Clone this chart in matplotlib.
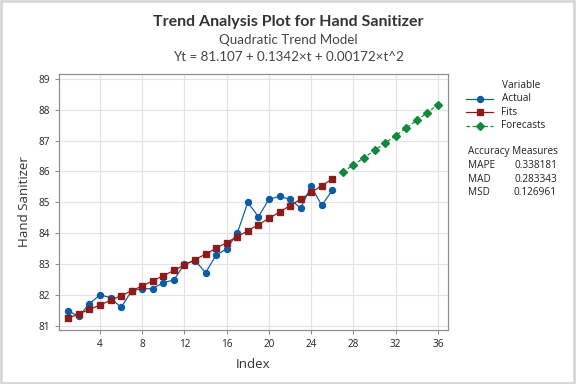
import matplotlib
matplotlib.use("Agg")
import matplotlib.pyplot as plt
from matplotlib.lines import Line2D

plt.rcParams['font.family'] = ['Open Sans', 'DejaVu Sans']

t_actual = list(range(1, 27))
actual = [81.48, 81.30, 81.71, 82.00, 81.91, 81.59, 82.13, 82.20, 82.20, 82.40,
          82.48, 83.00, 83.11, 82.72, 83.29, 83.49, 84.00, 85.00, 84.53, 85.10,
          85.19, 85.10, 84.81, 85.52, 84.90, 85.39]
fits = [81.243, 81.382, 81.525, 81.671, 81.821, 81.974, 82.131, 82.291, 82.454, 82.621,
        82.791, 82.965, 83.142, 83.323, 83.507, 83.695, 83.886, 84.080, 84.278, 84.479,
        84.684, 84.892, 85.103, 85.319, 85.538, 85.759]
t_fc = list(range(27, 37))
forecasts = [85.984, 86.213, 86.446, 86.681, 86.920, 87.163, 87.409, 87.658, 87.911, 88.167]
xticks = [4, 8, 12, 16, 20, 24, 28, 32, 36]
yticks = [81, 82, 83, 84, 85, 86, 87, 88, 89]
series_names = ["Actual", "Fits", "Forecasts"]
measures = ["MAPE", "MAD", "MSD"]
measure_vals = ["0.338181", "0.283343", "0.126961"]

c_blue = "#0A5BA8"
c_red = "#8E1B1B"
c_green = "#12883A"
txt = "#222222"
ttl = ["Lato", "Open Sans", "DejaVu Sans"]

fig = plt.figure(figsize=(6, 4), dpi=96)
fig.patch.set_facecolor("white")
ax = fig.add_axes([0.1024, 0.1406, 0.6753, 0.6667])

styles = [dict(color=c_blue, lw=0.9, marker='o', ms=4.5),
          dict(color=c_red, lw=0.9, marker='s', ms=4.5),
          dict(color=c_green, lw=0.9, ls=(0, (3, 2)), marker='D', ms=4)]

ax.plot(t_actual, actual, zorder=3, **styles[0])
ax.plot(t_actual, fits, zorder=3, **styles[1])
ax.plot(t_fc, forecasts, zorder=3, **styles[2])

ax.set_xlim(0.12, 36.95)
ax.set_ylim(80.86, 89.16)
ax.set_xticks(xticks)
ax.set_yticks(yticks)
ax.grid(True, color="#E3E3E3", lw=0.9)
ax.set_axisbelow(True)
for s in ax.spines.values():
    s.set_color("#8C8C8C")
    s.set_linewidth(0.9)
ax.tick_params(colors="#8C8C8C", labelcolor=txt, labelsize=7.5, length=3)
ax.set_xlabel("Index", fontsize=10, color="#333333", labelpad=6)
ax.set_ylabel("Hand Sanitizer", fontsize=10, color="#333333", labelpad=6)

fig.text(0.5, 0.943, "Trend Analysis Plot for Hand Sanitizer", ha='center', va='center',
         fontsize=12, fontweight='bold', color="#333333", family=ttl)
fig.text(0.5, 0.897, "Quadratic Trend Model", ha='center', va='center', fontsize=10,
         color="#444444", family=ttl)
fig.text(0.5, 0.852, "Yt = 81.107 + 0.1342\u00d7t + 0.00172\u00d7t^2", ha='center', va='center',
         fontsize=10, color="#444444", family=ttl)

# legend (Minitab style)
W, H = 576.0, 384.0
fig.text(501.5 / W, 1 - 85 / H, "Variable", fontsize=7.5, color=txt, va='center')
for i, (name, st) in enumerate(zip(series_names, styles)):
    yy = 1 - (98.5 + i * 13.6) / H
    line_st = {k: v for k, v in st.items() if k not in ('marker', 'ms')}
    fig.add_artist(Line2D([466 / W, 493 / W], [yy, yy], transform=fig.transFigure, **line_st))
    fig.add_artist(Line2D([479.5 / W], [yy], transform=fig.transFigure, ls='none',
                          marker=st['marker'], ms=st['ms'], color=st['color']))
    fig.text(501.5 / W, yy, name, fontsize=7.5, color=txt, va='center')

fig.text(468 / W, 1 - 152 / H, "Accuracy Measures", fontsize=7.5, color=txt, va='center')
for i, (m, v) in enumerate(zip(measures, measure_vals)):
    yy = 1 - (165.5 + i * 13.6) / H
    fig.text(468 / W, yy, m, fontsize=7.5, color=txt, va='center')
    fig.text(557 / W, yy, v, fontsize=7.5, color=txt, va='center', ha='right')

fig.add_artist(plt.Rectangle((0.002, 0.003), 0.995, 0.995, transform=fig.transFigure,
                             fill=False, edgecolor="#D6D6D6", lw=2))
fig.savefig("out.png", dpi=96, facecolor="white")
